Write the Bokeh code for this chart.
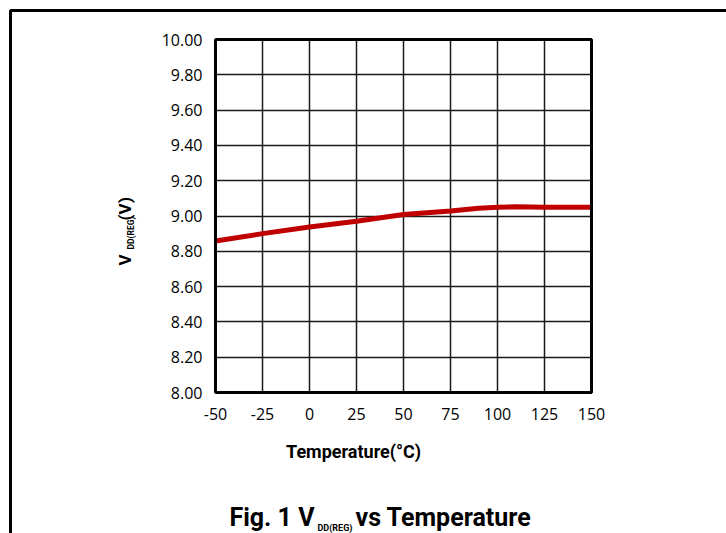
import math
from bokeh.plotting import figure
from bokeh.models import Range1d, FixedTicker, Label, BoxAnnotation, Grid
from bokeh.embed import file_html
from bokeh.resources import INLINE

# ---- data ----
temps = [-50, -25, 0, 25, 50, 75, 90, 100, 110, 125, 150]
vdd = [8.858, 8.900, 8.938, 8.970, 9.008, 9.028, 9.044, 9.050, 9.052, 9.050, 9.050]

x_ticks = [-50, -25, 0, 25, 50, 75, 100, 125, 150]
x_tick_labels = ["-50", "-25", "0", "25", "50", "75", "100", "125", "150"]
y_ticks = [8.0, 8.2, 8.4, 8.6, 8.8, 9.0, 9.2, 9.4, 9.6, 9.8, 10.0]
y_tick_labels = ["8.00", "8.20", "8.40", "8.60", "8.80", "9.00", "9.20", "9.40", "9.60", "9.80", "10.00"]

x_title = "Temperature(°C)"
y_title_parts = ["V", "DD(REG)", "(V)"]
fig_title_parts = ["Fig. 1 V", "DD(REG)", "vs Temperature"]

# ---- layout (pixel geometry of the plotting area) ----
W, H = 726, 533
FL, FR, FT, FB = 215, 591, 39, 392
X0, X1 = x_ticks[0], x_ticks[-1]
Y0, Y1 = y_ticks[0], y_ticks[-1]


def dx(px):
    return X0 + (px - FL) * (X1 - X0) / (FR - FL)


def dy(py):
    return Y0 + (FB - py) * (Y1 - Y0) / (FB - FT)


p = figure(width=W, height=H, output_backend="svg", toolbar_location=None,
           x_range=Range1d(dx(0), dx(W)), y_range=Range1d(dy(H), dy(0)),
           min_border=0, min_border_left=0, min_border_right=0,
           min_border_top=0, min_border_bottom=0)
p.background_fill_color = "white"
p.border_fill_color = "white"
p.outline_line_color = None

# axes drawn inside the (full-canvas) frame at the plot-area edges
p.xaxis.fixed_location = Y0
p.yaxis.fixed_location = X0
for ax in (p.xaxis, p.yaxis):
    ax.axis_line_color = None
    ax.major_tick_line_color = None
    ax.minor_tick_line_color = None
    ax.major_tick_out = 0
    ax.major_tick_in = 0
    ax.minor_tick_out = 0
    ax.minor_tick_in = 0
    ax.major_label_text_font = "Open Sans"
    ax.major_label_text_font_size = "16px"
    ax.major_label_text_color = "black"

p.xaxis.ticker = FixedTicker(ticks=x_ticks)
p.yaxis.ticker = FixedTicker(ticks=y_ticks)
p.xaxis.major_label_overrides = {t: l for t, l in zip(x_ticks, x_tick_labels)}
p.yaxis.major_label_overrides = {t: l for t, l in zip(y_ticks, y_tick_labels)}
p.xaxis.major_label_standoff = 15
p.yaxis.major_label_standoff = 13

GRID_COLOR = "#1a1a1a"
GRID_W = 1.5
if "cross_bounds" in Grid.properties():
    p.xgrid.ticker = FixedTicker(ticks=x_ticks)
    p.ygrid.ticker = FixedTicker(ticks=y_ticks)
    p.xgrid.cross_bounds = (Y0, Y1)
    p.ygrid.cross_bounds = (X0, X1)
    for g in (p.xgrid, p.ygrid):
        g.grid_line_color = GRID_COLOR
        g.grid_line_width = GRID_W
else:
    p.xgrid.visible = False
    p.ygrid.visible = False
    p.segment(x0=x_ticks, y0=[Y0] * len(x_ticks), x1=x_ticks, y1=[Y1] * len(x_ticks),
              line_color=GRID_COLOR, line_width=GRID_W)
    p.segment(x0=[X0] * len(y_ticks), y0=y_ticks, x1=[X1] * len(y_ticks), y1=y_ticks,
              line_color=GRID_COLOR, line_width=GRID_W)

p.line(temps, vdd, line_color="#C00000", line_width=5)

# plotting-area border
p.add_layout(BoxAnnotation(left=X0, right=X1, bottom=Y0, top=Y1, fill_color=None,
                           line_color="black", line_width=3, line_alpha=1))

COND = "Roboto"


def lab(px, py, text, size, angle=0.0):
    p.add_layout(Label(x=dx(px), y=dy(py), text=text, angle=angle,
                       text_align="left", text_baseline="alphabetic", text_font=COND,
                       text_font_style="bold", text_font_size=f"{size}px",
                       text_color="black"))


# x axis title
p.add_layout(Label(x=dx(353), y=dy(451), text=x_title, text_align="center",
                   text_baseline="alphabetic", text_font=COND, text_font_style="bold",
                   text_font_size="18px", text_color="black"))

# y axis title (rotated, with subscript)
ang = math.pi / 2
lab(124, 265, y_title_parts[0], 17, ang)
lab(130, 249, y_title_parts[1], 8.5, ang)
lab(124.5, 220, y_title_parts[2], 17, ang)

# figure caption (with subscript)
lab(229, 517, fig_title_parts[0], 25)
lab(317, 527.5, fig_title_parts[1], 9)
lab(355, 517, fig_title_parts[2], 25)

# outer figure frame (only its left and top edges fall inside the picture)
p.add_layout(BoxAnnotation(left=dx(10), top=dy(10), right=dx(W + 40), bottom=dy(H + 40),
                           fill_color=None, line_color="black", line_width=3, line_alpha=1))

open("out.html", "w").write(file_html(p, INLINE))
